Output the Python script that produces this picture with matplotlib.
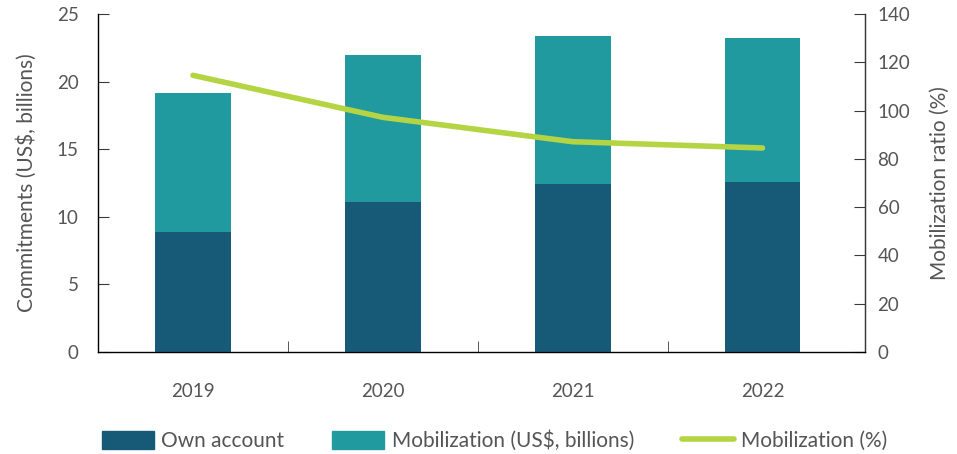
import matplotlib.pyplot as plt
from matplotlib.lines import Line2D
from matplotlib.patches import Patch

years = ["2019", "2020", "2021", "2022"]
own_account = [8.9, 11.1, 12.45, 12.57]
mobilization = [10.25, 10.87, 10.92, 10.63]
mobilization_pct = [114.6, 97.2, 87.1, 84.5]

OWN_COLOR = "#165a78"
MOB_COLOR = "#209a9f"
LINE_COLOR = "#b5d444"
TEXT_COLOR = "#555555"
AXIS_COLOR = "#3a3a3a"

plt.rcParams["font.family"] = ["Lato", "DejaVu Sans"]
plt.rcParams["font.size"] = 14
plt.rcParams["text.color"] = TEXT_COLOR
plt.rcParams["axes.labelcolor"] = TEXT_COLOR

fig = plt.figure(figsize=(9.57, 4.54), dpi=100)
ax = fig.add_axes([0.1024, 0.2247, 0.8015, 0.7445])

x = list(range(len(years)))
ax.bar(x, own_account, width=0.4, color=OWN_COLOR, edgecolor="none")
ax.bar(x, mobilization, width=0.4, bottom=own_account, color=MOB_COLOR, edgecolor="none")

ax.set_xlim(-0.5, 3.54)
ax.set_ylim(0, 25)
ax.set_yticks([0, 5, 10, 15, 20, 25])
ax.set_xticks(x)
ax.set_xticklabels(years)
ax.set_xticks([0.5, 1.5, 2.5], minor=True)
ax.tick_params(axis="x", which="major", length=0, pad=22, colors=TEXT_COLOR,
               labelsize=13.5)
ax.tick_params(axis="x", which="minor", direction="in", length=8, color=AXIS_COLOR)
ax.tick_params(axis="y", direction="in", length=8, pad=14, color=AXIS_COLOR,
               labelcolor=TEXT_COLOR, labelsize=13.5)
ax.set_ylabel("Commitments (US$, billions)", fontsize=15, labelpad=14)

ax.spines["top"].set_visible(False)
for side in ["left", "bottom", "right"]:
    ax.spines[side].set_color(AXIS_COLOR)
    ax.spines[side].set_linewidth(1.0)

ax2 = ax.twinx()
ax2.plot(x, mobilization_pct, color=LINE_COLOR, linewidth=4, solid_capstyle="round")
ax2.set_ylim(0, 140)
ax2.set_yticks(range(0, 141, 20))
ax2.tick_params(axis="y", direction="in", length=8, pad=9, color=AXIS_COLOR,
                labelcolor=TEXT_COLOR, labelsize=13.5)
ax2.set_ylabel("Mobilization ratio (%)", fontsize=15, labelpad=14)
ax2.spines["top"].set_visible(False)
ax2.spines["right"].set_color(AXIS_COLOR)

handles = [
    Patch(color=OWN_COLOR, label="Own account"),
    Patch(color=MOB_COLOR, label="Mobilization (US$, billions)"),
    Line2D([0], [0], color=LINE_COLOR, linewidth=4, solid_capstyle="round",
           label="Mobilization (%)"),
]
fig.legend(handles=handles, loc="lower center", bbox_to_anchor=(0.517, -0.035),
           ncol=3, frameon=False, fontsize=15, handlelength=2.5, handleheight=0.9,
           columnspacing=2.3, handletextpad=0.35)

fig.savefig("out.png", dpi=100)
